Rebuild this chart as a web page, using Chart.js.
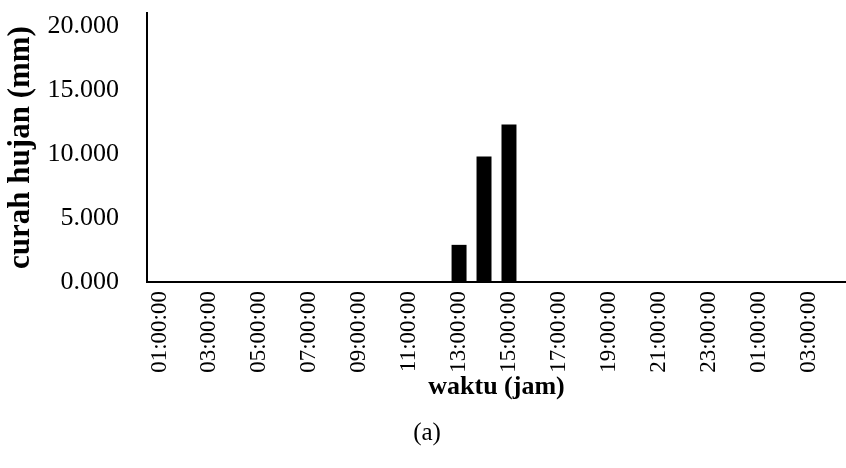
<!DOCTYPE html>
<html>
<head>
<meta charset="utf-8">
<script src="https://cdn.jsdelivr.net/npm/chart.js@4"></script>
<style>
  html, body { margin: 0; padding: 0; background: #fff; }
  #wrap { width: 846px; height: 468px; }
</style>
</head>
<body>
<div id="wrap"><canvas id="myChart" width="846" height="468"></canvas></div>
<script>
// jam pengamatan (01:00 s/d 04:00 hari berikutnya)
var waktu = ['01:00:00','02:00:00','03:00:00','04:00:00','05:00:00','06:00:00','07:00:00',
  '08:00:00','09:00:00','10:00:00','11:00:00','12:00:00','13:00:00','14:00:00','15:00:00',
  '16:00:00','17:00:00','18:00:00','19:00:00','20:00:00','21:00:00','22:00:00','23:00:00',
  '00:00:00','01:00:00','02:00:00','03:00:00','04:00:00'];
// curah hujan per jam (mm)
var hujan = [0,0,0,0,0,0,0,0,0,0,0,0,2.9,9.8,12.3,0,0,0,0,0,0,0,0,0,0,0,0,0];
var yTicks = [0, 5, 10, 15, 20];

var fontName = "'Liberation Serif', 'Times New Roman', serif";

new Chart('myChart', {
  type: 'bar',
  data: {
    labels: waktu,
    datasets: [{
      data: hujan,
      backgroundColor: '#000',
      borderWidth: 0,
      barPercentage: 0.6,
      categoryPercentage: 1
    }]
  },
  options: {
    responsive: false,
    animation: false,
    layout: { padding: { top: 13, right: -8, left: 0, bottom: 20 } },
    plugins: {
      legend: { display: false },
      tooltip: { enabled: false },
      subtitle: {
        display: true,
        text: '(a)',
        position: 'bottom',
        color: '#000',
        font: { family: fontName, size: 25 },
        padding: { top: 0, bottom: 0 }
      }
    },
    scales: {
      x: {
        grid: { display: false, drawTicks: false },
        border: { color: '#000', width: 2 },
        afterFit: function (scale) {
          scale.height = 136;
          scale.paddingLeft = 0;
          scale.paddingRight = 0;
        },
        ticks: {
          autoSkip: false,
          minRotation: 90,
          maxRotation: 90,
          color: '#000',
          padding: 9,
          font: { family: fontName, size: 23 },
          callback: function (v, i) { return i % 2 === 0 ? waktu[i] : ''; }
        },
        title: {
          display: true,
          text: 'waktu (jam)',
          color: '#000',
          font: { family: fontName, size: 26, weight: 'bold' },
          padding: { top: 0, bottom: 15 }
        }
      },
      y: {
        min: 0,
        max: 21,
        grid: { display: false, drawTicks: false },
        border: { color: '#000', width: 2 },
        afterBuildTicks: function (scale) {
          scale.ticks = yTicks.map(function (v) { return { value: v }; });
        },
        afterFit: function (scale) {
          scale.width = 147;
          scale.paddingTop = 0;
          scale.paddingBottom = 0;
        },
        ticks: {
          color: '#000',
          padding: 28,
          font: { family: fontName, size: 26 },
          callback: function (v) { return Number(v).toFixed(3); }
        },
        title: {
          display: true,
          text: 'curah hujan (mm)',
          color: '#000',
          font: { family: fontName, size: 31, weight: 'bold' },
          padding: { top: 2, bottom: 0 }
        }
      }
    }
  }
});
</script>
</body>
</html>
